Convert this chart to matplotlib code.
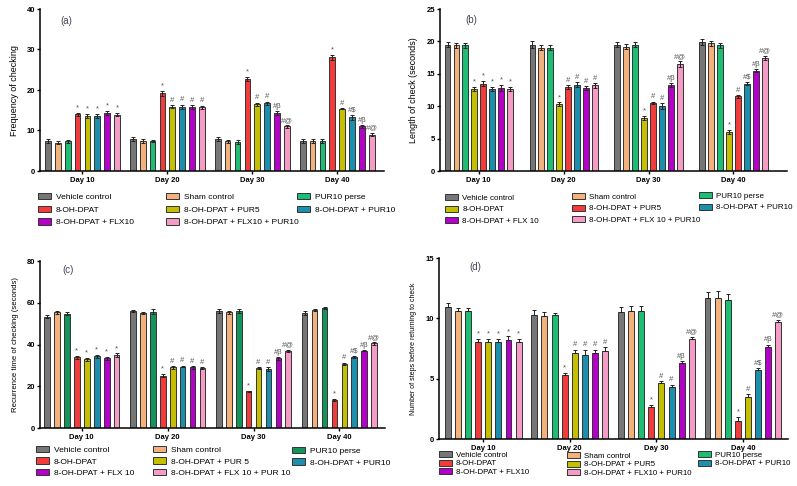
import numpy as np
import matplotlib
matplotlib.use("Agg")
import matplotlib.pyplot as plt

plt.rcParams['font.family'] = ['Liberation Sans', 'DejaVu Sans']

days = ['Day 10', 'Day 20', 'Day 30', 'Day 40']
groups = ['Vehicle control', 'Sham control', 'PUR10 perse', '8-OH-DPAT',
          '8-OH-DPAT + PUR5', '8-OH-DPAT + PUR10', '8-OH-DPAT + FLX10',
          '8-OH-DPAT + FLX10 + PUR10']
groups_c = ['Vehicle control', 'Sham control', 'PUR10 perse', '8-OH-DPAT',
            '8-OH-DPAT + PUR 5', '8-OH-DPAT + PUR10', '8-OH-DPAT + FLX 10',
            '8-OH-DPAT + FLX 10 + PUR 10']
groups_b = ['Vehicle control', 'Sham control', 'PUR10 perse', '8-OH-DPAT',
            '8-OH-DPAT + PUR5', '8-OH-DPAT + PUR10', '8-OH-DPAT + FLX 10',
            '8-OH-DPAT + FLX 10 + PUR10']

# values per day, bars in order of groups
freq = [[7.3, 7.0, 7.3, 14.0, 13.6, 13.6, 14.4, 13.9],
        [7.9, 7.3, 7.4, 19.2, 15.9, 15.9, 15.7, 15.7],
        [7.8, 7.3, 7.1, 22.7, 16.5, 16.7, 14.3, 11.0],
        [7.4, 7.4, 7.4, 28.1, 15.4, 13.3, 11.0, 9.0]]
freq_err = [[0.5, 0.3, 0.3, 0.4, 0.5, 0.5, 0.5, 0.4],
            [0.4, 0.5, 0.3, 0.6, 0.3, 0.5, 0.5, 0.4],
            [0.5, 0.3, 0.5, 0.5, 0.4, 0.4, 0.5, 0.3],
            [0.5, 0.5, 0.5, 0.6, 0.2, 0.6, 0.3, 0.4]]

length = [[19.5, 19.4, 19.4, 12.7, 13.5, 12.7, 12.8, 12.7],
          [19.5, 19.0, 19.0, 10.3, 13.0, 13.3, 12.8, 13.2],
          [19.5, 19.2, 19.5, 8.2, 10.5, 10.0, 13.3, 16.5],
          [19.9, 19.7, 19.4, 6.0, 11.5, 13.5, 15.5, 17.5]]
length_err = [[0.4, 0.4, 0.4, 0.3, 0.4, 0.3, 0.5, 0.3],
              [0.5, 0.4, 0.4, 0.3, 0.3, 0.4, 0.3, 0.4],
              [0.4, 0.4, 0.4, 0.3, 0.2, 0.5, 0.3, 0.4],
              [0.4, 0.4, 0.4, 0.3, 0.2, 0.2, 0.2, 0.3]]

recur = [[53.3, 55.4, 54.7, 33.8, 33.0, 34.3, 33.4, 35.0],
         [56.0, 54.9, 55.7, 25.0, 29.0, 29.4, 29.0, 28.7],
         [56.0, 55.4, 56.0, 17.5, 28.7, 28.3, 33.3, 37.0],
         [55.1, 56.4, 57.3, 13.3, 30.8, 34.1, 37.0, 40.5]]
recur_err = [[0.8, 0.8, 0.8, 0.8, 0.7, 0.8, 0.8, 0.8],
             [0.5, 0.5, 1.1, 0.8, 0.5, 0.4, 0.6, 0.5],
             [0.8, 0.8, 0.9, 0.4, 0.5, 0.8, 0.5, 0.4],
             [0.8, 0.5, 0.5, 0.5, 0.5, 0.4, 0.3, 0.5]]

steps = [[10.9, 10.6, 10.6, 8.0, 8.0, 8.0, 8.2, 8.0],
         [10.3, 10.2, 10.3, 5.3, 7.1, 7.0, 7.1, 7.3],
         [10.5, 10.6, 10.6, 2.65, 4.65, 4.3, 6.3, 8.3],
         [11.7, 11.7, 11.5, 1.5, 3.5, 5.7, 7.6, 9.7]]
steps_err = [[0.35, 0.25, 0.25, 0.3, 0.3, 0.3, 0.3, 0.3],
             [0.4, 0.3, 0.15, 0.2, 0.3, 0.4, 0.3, 0.3],
             [0.4, 0.45, 0.45, 0.2, 0.15, 0.2, 0.15, 0.15],
             [0.45, 0.55, 0.5, 0.3, 0.2, 0.2, 0.2, 0.15]]

marks = [['', '', '', '*', '*', '*', '*', '*'],
         ['', '', '', '*', '#', '#', '#', '#'],
         ['', '', '', '*', '#', '#', '#β', '#@'],
         ['', '', '', '*', '#', '#$', '#β', '#@']]

colors = ['#767676', '#F3B27C', '#1DBE74', '#F23B3B', '#C4BF00', '#1B8FAB', '#B400C8', '#F59CC6']
colors_b = ['#767676', '#F3B27C', '#1DBE74', '#C4BF00', '#F23B3B', '#1B8FAB', '#B400C8', '#F59CC6']
colors_c = ['#767676', '#F3B27C', '#14945A', '#F23B3B', '#C4BF00', '#1B8FAB', '#B400C8', '#F59CC6']

W, H = 797, 486
fig = plt.figure(figsize=(W / 100, H / 100), dpi=100)


def fbox(l, r, t, b):
  return [l / W, 1 - b / H, (r - l) / W, (b - t) / H]


def panel(rect, vals, errs, cols, ymax, ystep, xlim, pitch, ylabel, ylfs,
          tag, tagxy, labels, legpos, rows, leg_fs, up_only=False):
  ax = fig.add_axes(fbox(*rect))
  v = np.array(vals)
  e = np.array(errs)
  x = np.arange(len(days))
  for i in range(len(labels)):
    xs = x + (i - 3.5) * pitch
    yerr = [np.zeros(4), e[:, i]] if up_only else e[:, i]
    ax.bar(xs, v[:, i], 0.068, color=cols[i], edgecolor='#333333', linewidth=0.7,
           yerr=yerr, error_kw=dict(elinewidth=0.7, capsize=1.5, capthick=0.7, ecolor='#222222'),
           label=labels[i], zorder=2)
    for j in range(len(days)):
      if marks[j][i]:
        ax.text(xs[j], v[j, i] + e[j, i] + ymax * 0.008, marks[j][i], ha='center',
                va='bottom', fontsize=5.5, color='#555555')
  ax.set_xlim(*xlim)
  ax.set_ylim(0, ymax)
  ax.set_yticks(np.arange(0, ymax + 0.1, ystep))
  ax.set_xticks(x)
  ax.set_xticklabels(days, fontsize=5.5, fontweight='bold')
  for t in ax.get_yticklabels():
    t.set_fontsize(5.5)
    t.set_fontweight('bold')
  ax.tick_params(axis='y', length=2.5, width=1, pad=1)
  ax.tick_params(axis='x', length=2.5, width=1, pad=1.5)
  for s in ['top', 'right']:
    ax.spines[s].set_visible(False)
  for s in ['left', 'bottom']:
    ax.spines[s].set_linewidth(1.1)
  ax.set_ylabel(ylabel, fontsize=ylfs)
  ax.yaxis.set_label_coords(-0.062, 0.5)
  ax.text(tagxy[0], tagxy[1], tag, transform=ax.transAxes, fontsize=7, color='#444455')
  # legend split in three columns, read row by row
  handles, labs = ax.get_legend_handles_labels()
  cols_idx = [[0, 3, 6], [1, 4, 7], [2, 5]]
  for c, idx in enumerate(cols_idx):
    lx, ly = legpos[c]
    fig.legend([handles[k][0] for k in idx], [labs[k] for k in idx],
               loc='upper left', bbox_to_anchor=(lx / W, 1 - ly / H),
               frameon=False, fontsize=leg_fs, handlelength=1.6, handleheight=0.8,
               handletextpad=0.55, borderpad=0, borderaxespad=0,
               labelspacing=rows)
  return ax


panel((40, 384, 9, 171), freq, freq_err, colors, 40, 10, (-0.5, 3.55), 0.1165,
      'Frequency of checking', 6.5, '(a)', (0.058, 0.905), groups,
      [(38, 193), (166, 193), (297, 193)], 0.55, 6.0)
panel((440, 787, 9, 171), length, length_err, colors_b, 25, 5, (-0.456, 3.63), 0.105,
      'Length of check (seconds)', 6.5, '(b)', (0.072, 0.915), groups_b,
      [(445, 194), (572, 193), (699, 192)], 0.45, 5.8)
panel((40, 385, 261, 428), recur, recur_err, colors_c, 80, 20, (-0.485, 3.53), 0.116,
      'Recurrence time of checking (seconds)', 5.6, '(c)', (0.064, 0.93), groups_c,
      [(36, 446), (153, 446), (292, 447)], 0.4, 6.0)
panel((439, 788, 258, 439), steps, steps_err, colors, 15, 5, (-0.51, 3.52), 0.117,
      'Number of steps before returning to check', 5.0, '(d)', (0.086, 0.935), groups,
      [(439, 451), (567, 452), (698, 451)], 0.1, 5.7, up_only=True)

fig.savefig('out.png', dpi=100)
